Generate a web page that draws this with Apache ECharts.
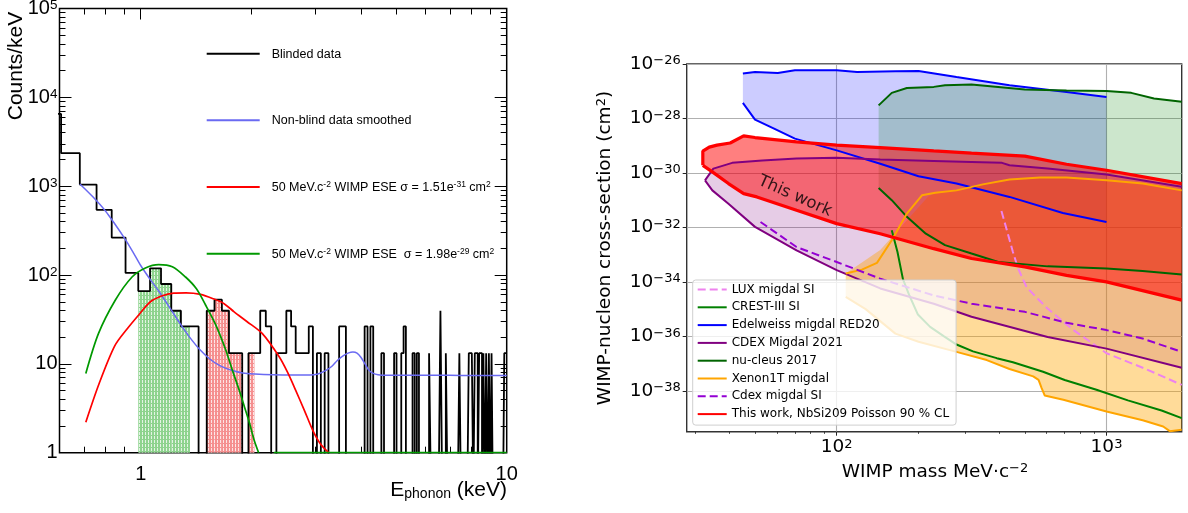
<!DOCTYPE html>
<html>
<head>
<meta charset="utf-8">
<script src="https://cdn.jsdelivr.net/npm/echarts@6/dist/echarts.min.js"></script>
<style>
html, body { margin: 0; padding: 0; background: #fff; }
#chart { width: 1188px; height: 513px; }
</style>
</head>
<body>
<div id="chart"></div>
<script>
// ---------- left panel : blinded phonon spectrum ----------
const BIN_W = 10 / 132;      // keV per bin
const FIRST_BIN = 7;         // bin index of blindCounts[0]
const blindCounts = [
  493, 178, 79, 41, 20, 8, 5, 9, 6, 3,
  2, 2, 0, 3, 4, 3, 1, 1, 0, 1,
  1, 3, 2, 0, 1, 1, 3, 2, 1, 1,
  1, 2, 0, 1, 0, 1, 0, 0, 0, 2,
  2, 0, 0, 0, 0, 0, 0, 2, 0, 2,
  0, 0, 0, 1, 0, 0, 0, 0, 1, 0,
  0, 1, 2, 0, 0, 0, 1, 0, 1, 0,
  0, 0, 0, 0, 1, 0, 0, 0, 0, 0,
  3, 0, 0, 1, 0, 0, 0, 0, 0, 0,
  0, 1, 0, 0, 0, 0, 0, 1, 1, 1,
  0, 1, 1, 0, 1, 1, 0, 1, 0, 1,
  0, 1, 0, 1, 0, 0, 0, 0, 0, 0,
  0, 0, 0, 1, 1
];
const greenFillBins = [13, 14, 15, 16, 17];
const redFillBins = [20, 21, 22, 23, 24, 26];

const smoothE = [0.682, 0.74, 0.80, 0.85, 0.90, 0.95, 1.0, 1.06, 1.12, 1.2, 1.28, 1.36, 1.45, 1.55, 1.65, 1.78, 1.9, 2.05, 2.3, 2.6,
  2.9, 3.05, 3.2, 3.33, 3.45, 3.58, 3.7, 3.8, 3.9, 4.0, 4.1, 4.2, 4.32, 4.45, 4.7, 5.5, 6.5, 7.5, 8.5, 10];
const smoothY = [1060, 760, 530, 375, 265, 185, 128, 90, 66, 43, 28.5, 20, 14.5, 11.2, 9.5, 8.4, 7.9, 7.7, 7.55, 7.5,
  7.5, 7.7, 8.4, 9.4, 11.0, 12.4, 13.3, 13.6, 13.2, 11.8, 10.0, 8.5, 7.8, 7.55, 7.45, 7.45, 7.45, 7.4, 7.4, 7.4];

const eseRedE = [0.708, 0.77, 0.85, 0.92, 0.99, 1.063, 1.14, 1.23, 1.33, 1.457, 1.58, 1.69, 1.8, 1.95, 2.147, 2.39, 2.52, 2.65, 2.8, 2.95, 3.1, 3.26];
const eseRedY = [2.2, 6, 16, 25, 36, 50, 58, 62.5, 63, 60.6, 54, 47.6, 38.5, 30, 22, 12, 8, 5.06, 3.0, 1.8, 1.25, 1.0];

const eseGreenE = [0.708, 0.767, 0.852, 0.947, 1.03, 1.12, 1.22, 1.326, 1.42, 1.504, 1.6, 1.706, 1.78, 1.86, 1.92, 1.98, 2.04, 2.1];
const eseGreenY = [7.8, 22, 52, 95, 120, 131, 124, 95, 70, 46, 28, 14.5, 8.5, 5.0, 3.3, 2.2, 1.4, 1.0];
const eseGreenFloorE = [2.31, 10];

const leftMajorX = [1, 10];
const leftMinorX = [0.7, 0.8, 0.9, 2, 3, 4, 5, 6, 7, 8, 9];
const leftMajorY = [1, 10, 100, 1000, 10000, 100000];
const leftMinorY = [];
[1, 10, 100, 1000, 10000].forEach(d => { for (let m = 2; m <= 9; m++) leftMinorY.push(m * d); });

// ---------- right panel : exclusion limits (mass in MeV, log10 of sigma in cm2) ----------
const edelUpM = [44.9, 49.8, 60.5, 70, 100, 119, 165, 201, 278, 437, 711, 1000];
const edelUpS = [-26.35, -26.29, -26.33, -26.23, -26.23, -26.29, -26.27, -26.26, -26.48, -26.78, -27.03, -27.21];
const edelLoM = [44.9, 49.8, 58.6, 70, 100, 145, 201, 278, 437, 689, 1000];
const edelLoS = [-27.43, -28.04, -28.37, -28.74, -29.17, -29.66, -30.12, -30.39, -30.88, -31.47, -31.80];

const nuUpM = [143, 160, 182, 229, 252, 316, 498, 711, 1000, 1235, 1500, 1900];
const nuUpS = [-27.52, -27.06, -26.88, -26.84, -26.78, -26.75, -26.94, -26.97, -26.99, -27.06, -27.27, -27.39];
const nuLoM = [143, 160, 182, 214, 252, 316, 397, 605, 1000, 1361, 1900];
const nuLoS = [-30.55, -31.0, -31.61, -32.23, -32.65, -32.96, -33.27, -33.43, -33.51, -33.60, -33.73];

const crestM = [160, 168, 176, 186, 200, 222, 250, 278, 320, 392, 450, 582, 700, 918, 1200, 1600, 1900];
const crestS = [-32.1, -32.9, -33.9, -34.5, -35.2, -35.65, -36.0, -36.3, -36.55, -36.8, -36.95, -37.3, -37.6, -37.96, -38.35, -38.72, -39.0];

const cdexUpM = [32.5, 34.9, 41, 53, 71, 100, 145, 229, 316, 410, 437, 605, 1000, 1900];
const cdexUpS = [-30.27, -29.84, -29.63, -29.54, -29.47, -29.44, -29.51, -29.56, -29.60, -29.63, -29.72, -29.84, -30.06, -30.51];
const cdexLoM = [32.5, 34.6, 39.7, 49.8, 71, 100, 145, 229, 316, 605, 1000, 1900];
const cdexLoS = [-30.27, -30.64, -31.13, -31.98, -32.84, -33.57, -34.24, -34.80, -35.28, -36.02, -36.45, -37.15];

const workUpM = [31.9, 31.9, 33.7, 36, 40.3, 45.2, 49.8, 71, 100, 145, 229, 316, 498, 711, 1000, 1900];
const workUpS = [-29.72, -29.20, -29.05, -28.98, -28.90, -28.64, -28.70, -28.86, -28.98, -29.07, -29.19, -29.27, -29.38, -29.68, -29.90, -30.39];
const workLoM = [31.9, 34.6, 39.7, 45.2, 50.6, 71, 100, 145, 229, 316, 498, 711, 1000, 1900];
const workLoS = [-29.72, -29.96, -30.39, -30.76, -30.88, -31.37, -31.86, -32.23, -32.78, -33.14, -33.45, -33.76, -34.0, -34.67];

const xenUpM = [108, 124, 141, 160, 182, 207, 232, 278, 348, 437, 567, 711, 1000, 1362, 1900];
const xenUpS = [-33.69, -33.55, -33.30, -32.47, -31.49, -30.82, -30.73, -30.64, -30.42, -30.24, -30.17, -30.17, -30.27, -30.39, -30.64];
const xenFillUpM = [108, 145, 218, 232, 278, 348, 437, 567, 711, 1000, 1362, 1900];
const xenFillUpS = [-33.69, -32.83, -30.87, -30.73, -30.64, -30.42, -30.24, -30.17, -30.17, -30.27, -30.39, -30.64];
const xenLoM = [108, 128, 165, 201, 278, 360, 437, 535, 560, 575, 590, 692, 1000, 1362, 1622, 1716, 1900];
const xenLoS = [-34.55, -35.0, -35.9, -36.2, -36.57, -36.87, -37.2, -37.47, -37.6, -37.9, -38.17, -38.33, -38.76, -39.08, -39.31, -39.48, -39.43];

const luxM = [408, 430, 450, 470, 506, 600, 750, 1000, 1400, 1900];
const luxS = [-31.4, -32.2, -32.9, -33.5, -34.2, -34.95, -35.75, -36.62, -37.2, -37.78];

const cdexSiM = [52.2, 71, 100, 145, 229, 316, 498, 711, 1000, 1362, 1900];
const cdexSiS = [-31.80, -32.72, -33.27, -33.88, -34.5, -34.8, -35.10, -35.50, -35.77, -36.08, -36.57];

const rightMajorX = [100, 1000];
const rightMinorX = [30, 40, 50, 60, 70, 80, 90, 200, 300, 400, 500, 600, 700, 800, 900];
const rightMajorY = [-38, -36, -34, -32, -30, -28, -26];   // decades of sigma

// ---------- helpers ----------
const ROOT_FONT = 'Liberation Sans';
const MPL_FONT = 'DejaVu Sans';

function hatch(bg) {
  const c = document.createElement('canvas');
  c.width = 3; c.height = 4;
  const g = c.getContext('2d');
  g.fillStyle = bg; g.fillRect(0, 0, 3, 4);
  g.fillStyle = 'rgba(255,255,255,0.75)'; g.fillRect(1, 0, 1, 3);
  return { image: c, repeat: 'repeat' };
}

const pairs = (xs, ys) => xs.map((x, i) => [x, ys[i]]);

const histData = blindCounts.map((n, i) => [(FIRST_BIN + i) * BIN_W, n > 0 ? n / BIN_W : 0.3]);
histData.push([(FIRST_BIN + blindCounts.length) * BIN_W, histData[histData.length - 1][1]]);

const fillData = bins => bins.map(k => [k * BIN_W, (k + 1) * BIN_W, blindCounts[k - FIRST_BIN] / BIN_W]);

const greenLine = pairs(eseGreenE, eseGreenY).concat([[2.2, null]], eseGreenFloorE.map(e => [e, 1]));

function binRects(data, pattern) {
  return {
    type: 'custom', xAxisIndex: 0, yAxisIndex: 0, z: 1, silent: true,
    data, encode: { x: [0, 1], y: 2 },
    renderItem: (params, api) => {
      const a = api.coord([api.value(0), 1]);
      const b = api.coord([api.value(1), api.value(2)]);
      return { type: 'rect', shape: { x: a[0], y: b[1], width: b[0] - a[0], height: a[1] - b[1] }, style: { fill: pattern } };
    }
  };
}

function region(name, upM, upS, loM, loS, fill, z) {
  const data = pairs(upM, upS);
  for (let i = loM.length - 1; i >= 0; i--) data.push([loM[i], loS[i]]);
  return {
    type: 'custom', name, xAxisIndex: 4, yAxisIndex: 4, z, silent: true, clip: true, data,
    renderItem: (params, api) => {
      if (params.dataIndexInside !== 0) return null;
      const pts = [];
      for (let i = 0; i < params.dataInsideLength; i++) pts.push(api.coord([api.value(0, i), api.value(1, i)]));
      return { type: 'polygon', shape: { points: pts }, style: { fill } };
    }
  };
}

function limitLine(name, ms, ss, color, width, dash, z) {
  return {
    type: 'line', name, xAxisIndex: 4, yAxisIndex: 4, z, symbol: 'none', silent: true,
    data: pairs(ms, ss),
    lineStyle: { color, width, type: dash || 'solid' }, itemStyle: { color }
  };
}

function leftLine(name, data, color, width, z, extra) {
  return Object.assign({
    type: 'line', name, xAxisIndex: 0, yAxisIndex: 0, z, symbol: 'none', silent: true,
    data, lineStyle: { color, width }, itemStyle: { color }
  }, extra || {});
}

const rootRich = {
  b: { fontFamily: ROOT_FONT, fontSize: 20, color: '#000', lineHeight: 20, verticalAlign: 'bottom', padding: [5, 0, 0, 0] },
  s: { fontFamily: ROOT_FONT, fontSize: 13.5, color: '#000', lineHeight: 12, verticalAlign: 'top' }
};
const mplRich = {
  b: { fontFamily: MPL_FONT, fontSize: 18.5, color: '#000', lineHeight: 19, verticalAlign: 'bottom', padding: [6, 0, 0, 0] },
  s: { fontFamily: MPL_FONT, fontSize: 13, color: '#000', lineHeight: 13, verticalAlign: 'top' }
};
const legRich = {
  t: { fontFamily: ROOT_FONT, fontSize: 12.5, color: '#000', lineHeight: 14, verticalAlign: 'bottom', padding: [4, 0, 0, 0] },
  p: { fontFamily: ROOT_FONT, fontSize: 12.5, color: '#000', lineHeight: 14, verticalAlign: 'bottom', padding: [4, 0, 0, 7] },
  s: { fontFamily: ROOT_FONT, fontSize: 8.5, color: '#000', lineHeight: 9, verticalAlign: 'top' }
};

const rootLabel = v => {
  const e = Math.round(Math.log10(v));
  if (e === 0) return '{b|1}';
  if (e === 1) return '{b|10}';
  return '{b|10}{s|' + e + '}';
};
const mplMassLabel = v => '{b|10}{s|' + Math.round(Math.log10(v)) + '}';
const mplSigmaLabel = v => '{b|10}{s|' + (v < 0 ? '\u2212' + (-v) : v) + '}';

const NAME_RED = 'ESE 1.51e-31';
const NAME_GREEN = 'ESE 1.98e-29';
const leftLegendText = {
  'Blinded data': '{p|Blinded data}',
  'Non-blind data smoothed': '{p|Non-blind data smoothed}',
  [NAME_RED]: '{p|50 MeV.c}{s|-2}{t| WIMP ESE \u03c3 = 1.51e}{s|-31}{t| cm}{s|2}',
  [NAME_GREEN]: '{p|50 MeV.c}{s|-2}{t| WIMP ESE  \u03c3 = 1.98e}{s|-29}{t| cm}{s|2}'
};
const leftLegendRows = [['Blinded data', 52.7], ['Non-blind data smoothed', 119.3], [NAME_RED, 186], [NAME_GREEN, 252.7]];

// ---------- axes ----------
const tickLine = { color: '#000', width: 1 };
const lx = { type: 'log', gridIndex: 0, min: 0.6, max: 10, axisLine: { show: false, onZero: false }, splitLine: { show: false } };
const ly = { type: 'log', gridIndex: 0, min: 1, max: 100000, axisLine: { show: false, onZero: false }, splitLine: { show: false } };
const noLabel = { show: false };

const xAxes = [
  Object.assign({}, lx, { position: 'bottom',
    axisTick: { inside: true, length: 12, customValues: leftMajorX, lineStyle: tickLine },
    axisLabel: { customValues: leftMajorX, margin: 12, fontFamily: ROOT_FONT, fontSize: 20, color: '#000' } }),
  Object.assign({}, lx, { position: 'bottom', axisTick: { inside: true, length: 6, customValues: leftMinorX, lineStyle: tickLine }, axisLabel: noLabel }),
  Object.assign({}, lx, { position: 'top', axisTick: { inside: true, length: 11, customValues: leftMajorX, lineStyle: tickLine }, axisLabel: noLabel }),
  Object.assign({}, lx, { position: 'top', axisTick: { inside: true, length: 6, customValues: leftMinorX, lineStyle: tickLine }, axisLabel: noLabel }),
  { type: 'log', gridIndex: 1, min: 27.8, max: 1900, position: 'bottom',
    axisLine: { show: false, onZero: false },
    axisTick: { length: 4, customValues: rightMajorX, lineStyle: { color: '#222', width: 1 } },
    axisLabel: { customValues: rightMajorX, margin: 6, formatter: mplMassLabel, rich: mplRich },
    splitLine: { show: true, lineStyle: { color: '#b0b0b0', width: 1.1 } } },
  { type: 'log', gridIndex: 1, min: 27.8, max: 1900, position: 'bottom',
    axisLine: { show: false, onZero: false }, splitLine: { show: false },
    axisTick: { length: 2.2, customValues: rightMinorX, lineStyle: { color: '#222', width: 0.8 } },
    axisLabel: noLabel }
];

const yAxes = [
  Object.assign({}, ly, { position: 'left',
    axisTick: { inside: true, length: 12, customValues: leftMajorY, lineStyle: tickLine },
    axisLabel: { customValues: leftMajorY, margin: 2, formatter: rootLabel, rich: rootRich } }),
  Object.assign({}, ly, { position: 'left', axisTick: { inside: true, length: 6, customValues: leftMinorY, lineStyle: tickLine }, axisLabel: noLabel }),
  Object.assign({}, ly, { position: 'right', axisTick: { inside: true, length: 12, customValues: leftMajorY, lineStyle: tickLine }, axisLabel: noLabel }),
  Object.assign({}, ly, { position: 'right', axisTick: { inside: true, length: 6, customValues: leftMinorY, lineStyle: tickLine }, axisLabel: noLabel }),
  { type: 'value', gridIndex: 1, min: -39.5, max: -26, position: 'left',
    axisLine: { show: false, onZero: false },
    axisTick: { length: 4, customValues: rightMajorY, lineStyle: { color: '#222', width: 1 } },
    axisLabel: { customValues: rightMajorY, margin: 6, formatter: mplSigmaLabel, rich: mplRich },
    splitLine: { show: true, lineStyle: { color: '#b0b0b0', width: 1.1 } } }
];

// ---------- series ----------
const series = [
  binRects(fillData(greenFillBins), hatch('#8ed38e')),
  binRects(fillData(redFillBins), hatch('#f58f8f')),
  leftLine('Blinded data', histData, '#000', 1.8, 3, { step: 'end' }),
  leftLine('Non-blind data smoothed', pairs(smoothE, smoothY), '#6a6af2', 1.5, 4, { smooth: 0.3 }),
  leftLine(NAME_RED, pairs(eseRedE, eseRedY), '#ff0000', 1.7, 5, { smooth: 0.3 }),
  leftLine(NAME_GREEN, greenLine, '#009900', 1.7, 6, { smooth: 0.3 }),

  region('fill-edelweiss', edelUpM, edelUpS, edelLoM, edelLoS, 'rgba(0,0,255,0.2)', 1),
  region('fill-nucleus', nuUpM, nuUpS, nuLoM, nuLoS, 'rgba(0,128,0,0.2)', 2),
  region('fill-cdex', cdexUpM, cdexUpS, cdexLoM, cdexLoS, 'rgba(128,0,128,0.2)', 3),
  region('fill-xenon', xenFillUpM, xenFillUpS, xenLoM, xenLoS, 'rgba(255,165,0,0.4)', 4),
  region('fill-work', workUpM, workUpS, workLoM, workLoS, 'rgba(255,0,0,0.5)', 5),

  limitLine('LUX migdal SI', luxM, luxS, '#ee82ee', 2, [8, 4], 10),
  limitLine('CREST-III SI', crestM, crestS, '#008000', 2, null, 10),
  limitLine('Edelweiss migdal RED20', edelUpM, edelUpS, '#0000ff', 2, null, 10),
  limitLine('Edelweiss migdal RED20', edelLoM, edelLoS, '#0000ff', 2, null, 10),
  limitLine('CDEX Migdal 2021', cdexUpM, cdexUpS, '#800080', 2, null, 10),
  limitLine('CDEX Migdal 2021', cdexLoM, cdexLoS, '#800080', 2, null, 10),
  limitLine('nu-cleus 2017', nuUpM, nuUpS, '#006400', 2, null, 10),
  limitLine('nu-cleus 2017', nuLoM, nuLoS, '#006400', 2, null, 10),
  limitLine('Xenon1T migdal', xenUpM, xenUpS, '#ffa500', 2, null, 10),
  limitLine('Xenon1T migdal', xenLoM, xenLoS, '#ffa500', 2, null, 10),
  limitLine('Cdex migdal SI', cdexSiM, cdexSiS, '#9400d3', 2, [8, 4], 10),
  limitLine('This work, NbSi209 Poisson 90 % CL', workUpM, workUpS, '#ff0000', 3.2, null, 12),
  limitLine('This work, NbSi209 Poisson 90 % CL', workLoM, workLoS, '#ff0000', 3.2, null, 12),
  { type: 'scatter', name: 'label', xAxisIndex: 4, yAxisIndex: 4, z: 14, silent: true, symbolSize: 0,
    data: [[70, -30.85]],
    label: { show: true, position: 'inside', formatter: 'This work', rotate: -24,
      fontFamily: MPL_FONT, fontSize: 16.5, color: '#000' } }
];

// ---------- legends ----------
const legends = leftLegendRows.map(([name, yc]) => ({
  data: [name], left: 205.7, top: yc - 9, padding: 0, itemWidth: 53, itemHeight: 14,
  selectedMode: false, z: 50, itemStyle: { opacity: 0 },
  formatter: n => leftLegendText[n],
  textStyle: { rich: legRich }
}));
legends.push({
  data: ['LUX migdal SI', 'CREST-III SI', 'Edelweiss migdal RED20', 'CDEX Migdal 2021', 'nu-cleus 2017',
    'Xenon1T migdal', 'Cdex migdal SI', 'This work, NbSi209 Poisson 90 % CL'],
  orient: 'vertical', left: 692.7, top: 280, padding: [2.5, 7, 4, 4],
  itemGap: 3.8, itemWidth: 29, itemHeight: 12, selectedMode: false, z: 50, itemStyle: { opacity: 0 },
  backgroundColor: 'rgba(255,255,255,0.8)', borderColor: '#cfcfcf', borderWidth: 1, borderRadius: 3,
  textStyle: { fontFamily: MPL_FONT, fontSize: 12, color: '#000', lineHeight: 14 }
});

const chart = echarts.init(document.getElementById('chart'));
chart.setOption({
  animation: false,
  backgroundColor: '#fff',
  grid: [
    { left: 59.5, top: 8.5, width: 447.2, height: 444.2, show: true, borderColor: '#000', borderWidth: 1.5, outerBoundsMode: 'none' },
    { left: 686.7, top: 64, width: 495, height: 367.7, show: true, borderColor: '#333', borderWidth: 1.4, outerBoundsMode: 'none' }
  ],
  xAxis: xAxes,
  yAxis: yAxes,
  legend: legends,
  series,
  graphic: [
    { type: 'text', x: 16, y: 66, rotation: Math.PI / 2, z: 100,
      style: { text: 'Counts/keV', font: '21px "Liberation Sans"', fill: '#000', align: 'center', verticalAlign: 'middle' } },
    { type: 'text', x: 507, y: 480, z: 100,
      style: { text: '{a|E}{b|phonon}{a| (keV)}', align: 'right', verticalAlign: 'top',
        rich: {
          a: { fontFamily: ROOT_FONT, fontSize: 21, fill: '#000', lineHeight: 21, verticalAlign: 'top' },
          b: { fontFamily: ROOT_FONT, fontSize: 14, fill: '#000', lineHeight: 14, verticalAlign: 'bottom', padding: [12, 0, 0, 0] }
        } } },
    { type: 'text', x: 935, y: 472, z: 100,
      style: { text: '{a|WIMP mass MeV\u00b7c}{s|\u22122}', align: 'center', verticalAlign: 'middle',
        rich: {
          a: { fontFamily: MPL_FONT, fontSize: 18.5, fill: '#000', lineHeight: 19, verticalAlign: 'bottom', padding: [6, 0, 0, 0] },
          s: { fontFamily: MPL_FONT, fontSize: 13, fill: '#000', lineHeight: 13, verticalAlign: 'top' }
        } } },
    { type: 'text', x: 605, y: 248, rotation: Math.PI / 2, z: 100,
      style: { text: '{a|WIMP-nucleon cross-section (cm}{s|2}{a|)}', align: 'center', verticalAlign: 'middle',
        rich: {
          a: { fontFamily: MPL_FONT, fontSize: 18.5, fill: '#000', lineHeight: 19, verticalAlign: 'bottom', padding: [6, 0, 0, 0] },
          s: { fontFamily: MPL_FONT, fontSize: 13, fill: '#000', lineHeight: 13, verticalAlign: 'top' }
        } } }
  ]
});
</script>
</body>
</html>
